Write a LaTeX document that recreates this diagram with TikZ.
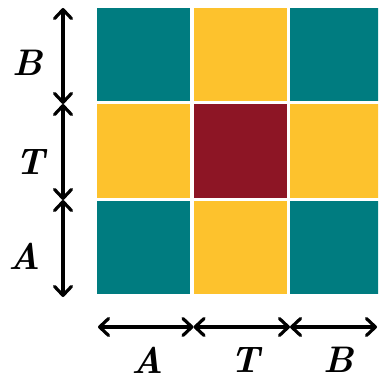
\documentclass[tikz,border=0pt]{standalone}
\usepackage{fontspec}
\usetikzlibrary{arrows.meta}
\definecolor{tealc}{RGB}{0,124,128}
\definecolor{yelc}{RGB}{253,194,45}
\definecolor{redc}{RGB}{141,21,37}
\tikzset{
  cell/.style={draw=none,minimum width=93pt,minimum height=93pt,inner sep=0pt,outer sep=0pt},
  dimarrow/.style={line width=3.2pt,{Straight Barb[length=9pt,width=17pt,round]}-{Straight Barb[length=9pt,width=17pt,round]}},
  lab/.style={font=\fontsize{37}{40}\selectfont\bfseries\itshape,inner sep=0pt}
}
\begin{document}
\begin{tikzpicture}[x=1pt,y=-1pt]
\useasboundingbox (0,0) rectangle (378,379);
\clip (0,0) rectangle (378,379);
% cells
\node[cell,fill=tealc] (c11) at (143.5,54.5) {};
\node[cell,fill=yelc]  (c12) at (240,54.5) {};
\node[cell,fill=tealc] (c13) at (336.5,54.5) {};
\node[cell,fill=yelc]  (c21) at (143.5,151) {};
\node[cell,fill=redc]  (c22) at (240,151) {};
\node[cell,fill=yelc]  (c23) at (336.5,151) {};
\node[cell,fill=tealc] (c31) at (143.5,247.5) {};
\node[cell,fill=yelc]  (c32) at (240,247.5) {};
\node[cell,fill=tealc] (c33) at (336.5,247.5) {};
% vertical dimension coordinates
\coordinate (v0) at (63,8);
\coordinate (v1) at (63,104);
\coordinate (v2) at (63,200);
\coordinate (v3) at (63,297);
\draw[dimarrow] (v0) -- (v1);
\draw[dimarrow] (v1) -- (v2);
\draw[dimarrow] (v2) -- (v3);
% horizontal
\coordinate (h0) at (98,327);
\coordinate (h1) at (193.5,327);
\coordinate (h2) at (290,327);
\coordinate (h3) at (377,327);
\draw[dimarrow] (h0) -- (h1);
\draw[dimarrow] (h1) -- (h2);
\draw[dimarrow] (h2) -- (h3);
% labels
\node[lab] (lB) at (28,63) {B};
\node[lab] (lT) at (30,162) {T};
\node[lab] (lA) at (25,256) {A};
\node[lab] (bA) at (148,360) {A};
\node[lab] (bT) at (245,360) {T};
\node[lab] (bB) at (339,360) {B};
\end{tikzpicture}
\end{document}
